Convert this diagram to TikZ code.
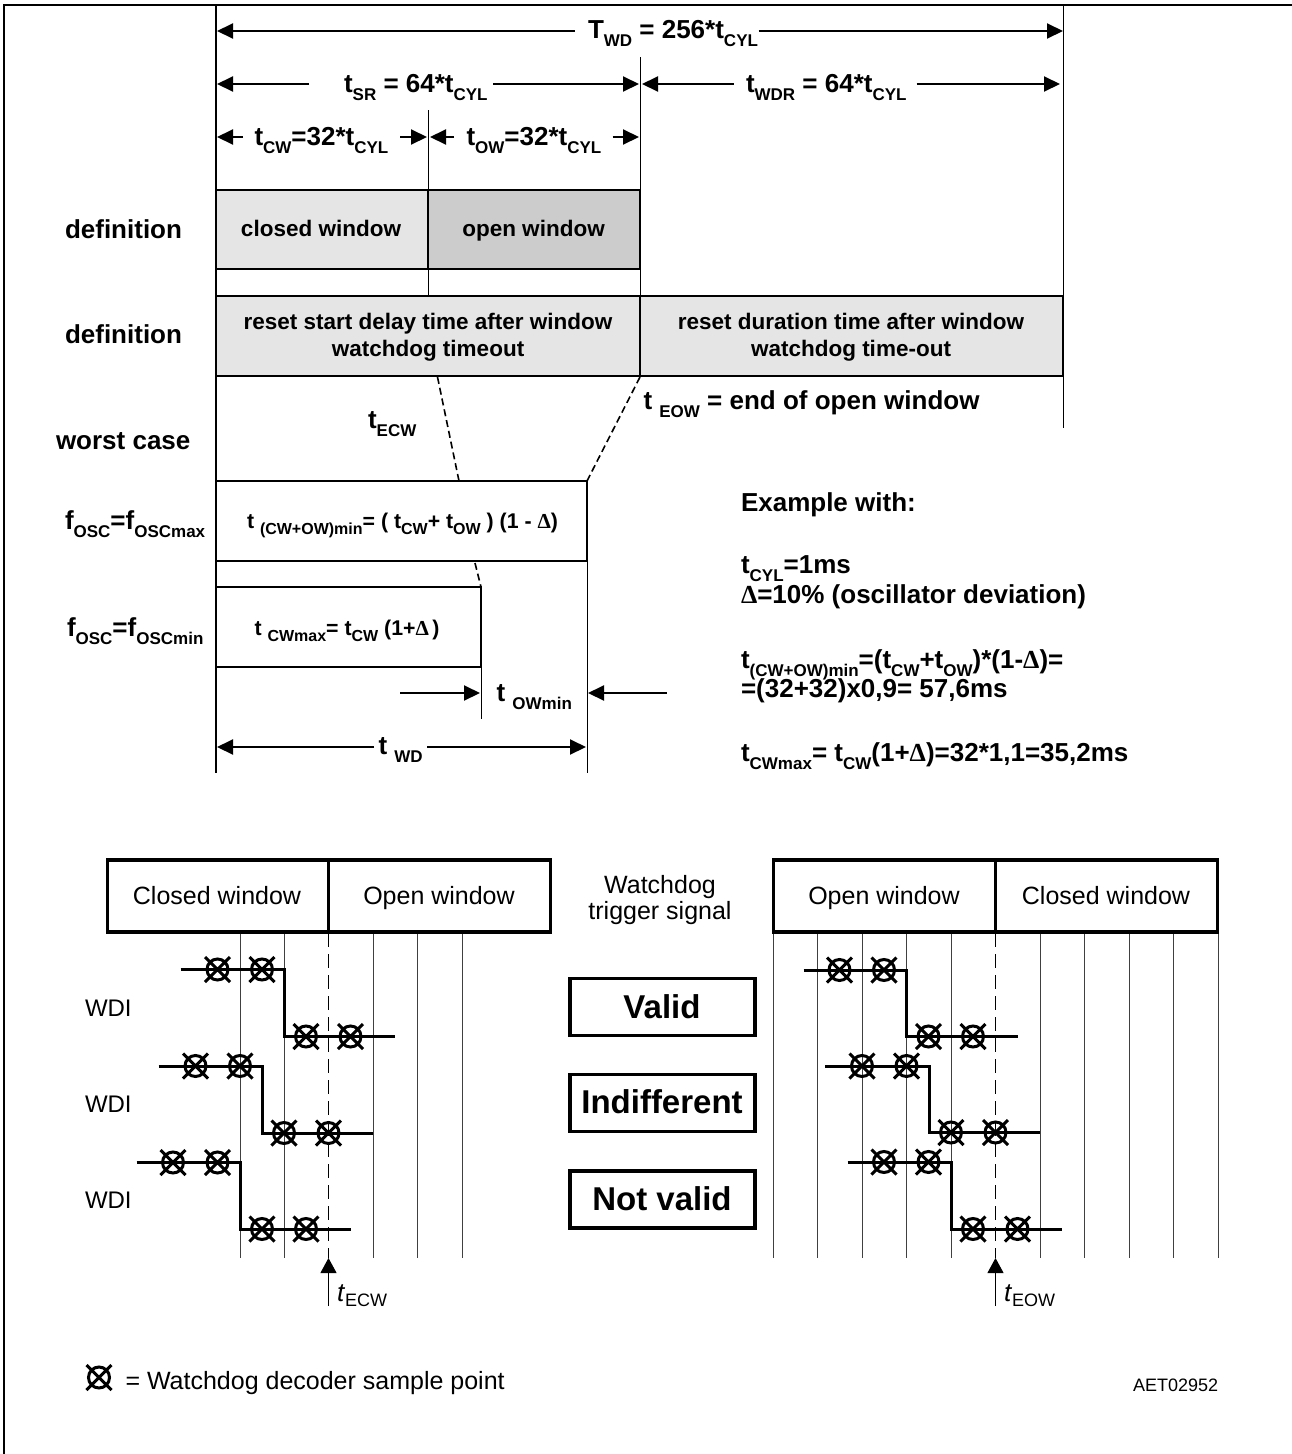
\documentclass[tikz,border=0pt]{standalone}
\usepackage{fontspec}
\setmainfont{Liberation Sans}
\newfontfamily\symfam{Liberation Serif}
\usetikzlibrary{arrows.meta}
\newcommand\fsz[1]{\fontsize{#1}{#1}\selectfont}
\newcommand\lsub[1]{\raisebox{-8.5pt}{\fsz{17}#1}}
\newcommand\ssub[1]{\raisebox{-6pt}{\fsz{16}#1}}
\newcommand\delt{{\symfam\bfseries Δ}}
\tikzset{
  txt/.style={inner sep=0pt,outer sep=0pt,anchor=base west,font=\fsz{26}\bfseries},
  ctr/.style={inner sep=0pt,outer sep=0pt,anchor=base,font=\fsz{22.5}\bfseries},
  eqn/.style={txt,font=\fsz{21.3}\bfseries},
  plain/.style={inner sep=0pt,outer sep=0pt,anchor=base,font=\fsz{25}},
  flag/.style={inner sep=0pt,outer sep=0pt,anchor=base,font=\fsz{33}\bfseries},
  box/.style={draw,line width=2pt,inner sep=0pt,outer sep=0pt,anchor=north west,align=center,font=\fsz{22.5}\bfseries},
  bigbox/.style={draw,line width=3.4pt,inner sep=0pt,outer sep=0pt,anchor=north west,minimum width=185pt,minimum height=57pt},
  thin line/.style={line width=1pt},
  tick/.style={line width=0.9pt,black!75},
  dash line/.style={line width=1.6pt,dash pattern=on 7pt off 4pt},
  dim/.style={line width=2pt,-{Triangle[length=16pt,width=15pt]},shorten >=0pt},
  wave/.style={line width=3pt,miter limit=4},
  up/.style={line width=1pt,-{Triangle[length=15pt,width=16pt]}},
  samp/.pic={\draw[line width=3pt] (0,0) circle (10.5pt) (-12.5,-12.5)--(12.5,12.5) (-12.5,12.5)--(12.5,-12.5);},
}
\begin{document}
\begin{tikzpicture}[x=1pt,y=-1pt]
\useasboundingbox (0,0) rectangle (1292,1454);
% frame
\draw[line width=2pt] (3.5,1454) -- (3.5,5) -- (1292,5);
% long verticals of the upper diagram
\draw[line width=1.8pt] (216,5) -- (216,773);
\draw[thin line] (428,110) -- (428,296);
\draw[thin line] (640,57) -- (640,296);
\draw[thin line] (1063,5) -- (1063,428);
\draw[thin line] (587,561) -- (587,773);
\draw[thin line] (481,667) -- (481,719);
% definition boxes
\node[box,fill=black!10,minimum width=212pt,minimum height=79pt] (closedw) at (216,190) {};
\node[box,fill=black!20,minimum width=212pt,minimum height=79pt] (openw) at (428,190) {};
\node[box,fill=black!10,minimum width=424pt,minimum height=80pt] (resetstart) at (216,296) {};
\node[box,fill=black!10,minimum width=423pt,minimum height=80pt] (resetdur) at (640,296) {};
\node[box,minimum width=371pt,minimum height=80pt] (maxbox) at (216,481) {};
\node[box,minimum width=265pt,minimum height=80pt] (minbox) at (216,587) {};
\node[ctr] (lclosed) at (321,236) {closed window};
\node[ctr] (lopen) at (533.5,236) {open window};
\node[ctr] (lrs1) at (428,329) {reset start delay time after window};
\node[ctr] (lrs2) at (428,356) {watchdog timeout};
\node[ctr] (lrd1) at (851,329) {reset duration time after window};
\node[ctr] (lrd2) at (851,356) {watchdog time-out};
% dashed
\draw[dash line] (437.5,377) -- (459,481);
\draw[dash line] (475,563) -- (481,587);
\draw[dash line] (640,377) -- (587,481);
% dimension arrows
\coordinate (twdl) at (217,31); \coordinate (twdla) at (574.5,31);
\coordinate (twdr) at (1063,31); \coordinate (twdra) at (758.5,31);
\draw[dim] (twdla) -- (twdl);
\draw[dim] (twdra) -- (twdr);
\draw[dim] (309,84) -- (217,84);
\draw[dim] (493,84) -- (639,84);
\draw[dim] (733.5,84) -- (642,84);
\draw[dim] (916.5,84) -- (1060,84);
\draw[dim] (243,137) -- (217,137);
\draw[dim] (400,137) -- (427,137);
\draw[dim] (454,137) -- (430,137);
\draw[dim] (612.5,137) -- (639,137);
\draw[dim] (400,693) -- (480,693);
\draw[dim] (666.5,693) -- (588,693);
\draw[dim] (374,747) -- (217,747);
\draw[dim] (427,747) -- (586,747);
% dimension labels
\node[txt] (tTWD) at (588,38) {T\lsub{WD} = 256*t\lsub{CYL}};
\node[txt] (tSR) at (344,92) {t\lsub{SR} = 64*t\lsub{CYL}};
\node[txt] (tWDR) at (746,92) {t\lsub{WDR} = 64*t\lsub{CYL}};
\node[txt] (tCW) at (254.5,145) {t\lsub{CW}=32*t\lsub{CYL}};
\node[txt] (tOW) at (466.5,145) {t\lsub{OW}=32*t\lsub{CYL}};
\node[txt] (ldef1) at (65,238) {definition};
\node[txt] (ldef2) at (65,343) {definition};
\node[txt] (lworst) at (56,449) {worst case};
\node[txt] (lEOW) at (643.5,409) {t \lsub{EOW} = end of open window};
\node[txt] (lECW) at (368,428) {t\lsub{ECW}};
\node[txt] (fmax) at (65,529) {f\lsub{OSC}=f\lsub{OSCmax}};
\node[txt] (fmin) at (67,636) {f\lsub{OSC}=f\lsub{OSCmin}};
\node[eqn] (eq1) at (247,528) {t \ssub{(CW+OW)min}= ( t\ssub{CW}+ t\ssub{OW} ) (1 - \delt)};
\node[eqn] (eq2) at (254.5,635) {t \ssub{CWmax}= t\ssub{CW} (1+\delt\,)};
\node[txt] (tOWm) at (496.5,701) {t \lsub{OWmin}};
\node[txt] (tWDl) at (378.5,754) {t \lsub{WD}};
% example text
\node[txt] (ex0) at (741,511) {Example with:};
\node[txt] (ex1) at (741,573) {t\lsub{CYL}=1ms};
\node[txt] (ex2) at (741,603) {\delt=10\% (oscillator deviation)};
\node[txt] (ex3) at (741,668) {t\lsub{(CW+OW)min}=(t\lsub{CW}+t\lsub{OW})*(1-\delt)=};
\node[txt] (ex4) at (741,697) {=(32+32)x0,9= 57,6ms};
\node[txt] (ex5) at (741,761) {t\lsub{CWmax}= t\lsub{CW}(1+\delt)=32*1,1=35,2ms};
% lower left header
\foreach \x in {240,284,373,417.5,462} \draw[tick] (\x,933) -- (\x,1258);
\draw[line width=3.4pt] (107.5,860) rectangle (550.5,932);
\draw[line width=3.4pt] (328.5,860) -- (328.5,932);
\node[plain] (cw1) at (217,904) {Closed window};
\node[plain] (ow1) at (439,904) {Open window};
\draw[line width=1pt,dash pattern=on 14pt off 7pt] (328.5,933) -- (328.5,1258);
\draw[wave] (180.5,969.5) -- (284,969.5) -- (284,1036.5) -- (395,1036.5);
\draw[wave] (158.5,1066) -- (262,1066) -- (262,1133) -- (373,1133);
\draw[wave] (136.5,1162.5) -- (240,1162.5) -- (240,1229) -- (351,1229);
\foreach \x/\y in {217.5/969.5,262/969.5,306/1036.5,350.5/1036.5,195.5/1066,240/1066,284/1133,328.5/1133,173/1162.5,217.5/1162.5,262/1229,306/1229}
  \pic at (\x,\y) {samp};
\node[txt,font=\fsz{24}] (wdi1) at (85,1016) {WDI};
\node[txt,font=\fsz{24}] (wdi2) at (85,1112) {WDI};
\node[txt,font=\fsz{24}] (wdi3) at (85,1208.5) {WDI};
\coordinate (ecwb) at (328.5,1306); \coordinate (ecwt) at (328.5,1258);
\draw[up] (ecwb) -- (ecwt);
\node[txt,font=\fsz{26}] (tecw) at (337,1301) {\textit{t}\raisebox{-5pt}{\fsz{18}ECW}};
% middle
\node[plain] (wt1) at (660,893) {Watchdog};
\node[plain] (wt2) at (660,919) {trigger signal};
\node[bigbox] (valid) at (570,978.5) {};
\node[bigbox] (indiff) at (570,1074.5) {};
\node[bigbox] (notvalid) at (570,1171) {};
\node[flag] (lvalid) at (662,1018) {Valid};
\node[flag] (lindiff) at (662,1113) {Indifferent};
\node[flag] (lnot) at (662,1210.5) {Not valid};
% lower right
\foreach \x in {773,817.5,862,906.5,951,1040,1084.5,1129,1173.5,1218} \draw[tick] (\x,933) -- (\x,1258);
\draw[line width=3.4pt] (773.5,860) rectangle (1217.5,932);
\draw[line width=3.4pt] (995.5,860) -- (995.5,932);
\node[plain] (ow2) at (884,904) {Open window};
\node[plain] (cw2) at (1106,904) {Closed window};
\draw[line width=1pt,dash pattern=on 14pt off 7pt] (995.5,933) -- (995.5,1258);
\draw[wave] (803.5,970) -- (906.5,970) -- (906.5,1036.5) -- (1017.5,1036.5);
\draw[wave] (825,1066) -- (929,1066) -- (929,1132.5) -- (1040,1132.5);
\draw[wave] (847.5,1162) -- (951,1162) -- (951,1229) -- (1062,1229);
\foreach \x/\y in {839.5/970,884/970,928.5/1036.5,973/1036.5,862/1066,906.5/1066,951/1132.5,995.5/1132.5,884/1162,928.5/1162,973/1229,1017.5/1229}
  \pic at (\x,\y) {samp};
\coordinate (eowb) at (995.5,1306); \coordinate (eowt) at (995.5,1258);
\draw[up] (eowb) -- (eowt);
\node[txt,font=\fsz{26}] (teow) at (1004,1301) {\textit{t}\raisebox{-5pt}{\fsz{18}EOW}};
% legend
\pic at (99,1377.5) {samp};
\node[txt,font=\fsz{25}] (leg) at (125.5,1389) {= Watchdog decoder sample point};
\node[txt,font=\fsz{18}] (code) at (1133,1391) {AET02952};
\end{tikzpicture}
\end{document}
